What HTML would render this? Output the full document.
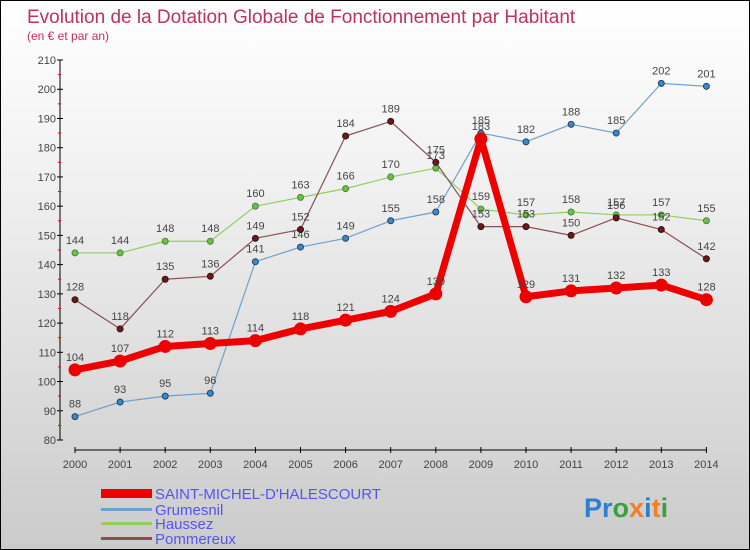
<!DOCTYPE html>
<html><head><meta charset="utf-8"><style>
body{margin:0;}
#c{width:748px;height:548px;border:1px solid #000;background:linear-gradient(#fff,#f2f2f2 30%,#cbcbcb);position:relative;font-family:"Liberation Sans",sans-serif;overflow:hidden}
</style></head><body>
<div id="c">
<svg id="s" width="748" height="548" xmlns="http://www.w3.org/2000/svg" font-family="Liberation Sans, sans-serif">
<text x="26" y="22" font-size="19" fill="#c03060">Evolution de la Dotation Globale de Fonctionnement par Habitant</text>
<text x="26" y="39" font-size="12" fill="#c03060">(en € et par an)</text>
<g id="g"></g>
<g>
<rect x="100" y="488" width="51" height="9" fill="#e00"/>
<text x="154" y="498" font-size="15" fill="#5555ee">SAINT-MICHEL-D'HALESCOURT</text>
<rect x="100" y="507" width="51" height="3" fill="#6fa0cc"/>
<text x="154" y="514" font-size="15" fill="#5555ee">Grumesnil</text>
<rect x="100" y="521" width="51" height="3" fill="#90d060"/>
<text x="154" y="528" font-size="15" fill="#5555ee">Haussez</text>
<rect x="100" y="536" width="51" height="3" fill="#8a5050"/>
<text x="154" y="543" font-size="15" fill="#5555ee">Pommereux</text>
</g>
<text x="583" y="516" font-size="27" font-weight="bold"><tspan fill="#2a7fd0">Pr</tspan><tspan fill="#3aa040">o</tspan><tspan fill="#f08020">x</tspan><tspan fill="#2a7fd0">i</tspan><tspan fill="#f08020">t</tspan><tspan fill="#3aa040">i</tspan></text>
</svg>
</div>
<script>
const years=[2000,2001,2002,2003,2004,2005,2006,2007,2008,2009,2010,2011,2012,2013,2014];
const smh=[104,107,112,113,114,118,121,124,130,183,129,131,132,133,128];
const grumesnil=[88,93,95,96,141,146,149,155,158,185,182,188,185,202,201];
const haussez=[144,144,148,148,160,163,166,170,173,159,157,158,157,157,155];
const pommereux=[128,118,135,136,149,152,184,189,175,153,153,150,156,152,142];
const yTicks=[80,90,100,110,120,130,140,150,160,170,180,190,200,210];
const NS="http://www.w3.org/2000/svg";
const g=document.getElementById('g');
const X=i=>74+i*45.1;
const Y=v=>439-(v-80)*2.923;
function mk(t,a,p){const e=document.createElementNS(NS,t);for(const k in a)e.setAttribute(k,a[k]);(p||g).appendChild(e);return e;}
// axes
let ax=mk('line',{x1:59,y1:Y(210),x2:59,y2:Y(80),stroke:'#000','stroke-width':1});


let xa=mk('line',{x1:X(0),y1:449,x2:X(14),y2:449,stroke:'#000','stroke-width':1});


yTicks.forEach((v,i)=>{
  mk('line',{x1:56,y1:Y(v),x2:62,y2:Y(v),stroke:'#000'});
  if(i<yTicks.length-1) mk('line',{x1:57,y1:Y(v+5),x2:60,y2:Y(v+5),stroke:'#e00'});
  const t=mk('text',{x:55,y:Y(v)+4,'font-size':11,fill:'#444','text-anchor':'end'});
  t.textContent=v;
  
  
});
years.forEach((y,i)=>{
  mk('line',{x1:X(i),y1:446,x2:X(i),y2:452,stroke:'#000'});
  const t=mk('text',{x:X(i),y:467,'font-size':11,fill:'#444','text-anchor':'middle'});
  t.textContent=y;
  
  
});
function series(data,col,dot,w,r,name,lc){
  const grp=mk('g',{});
  
  
  const pl=mk('polyline',{points:data.map((v,i)=>X(i)+','+Y(v)).join(' '),fill:'none',stroke:col,'stroke-width':w,'stroke-linejoin':'round'},grp);
  
  
  data.forEach((v,i)=>{
    const c=mk('circle',{cx:X(i),cy:Y(v),r:r,fill:dot,stroke:lc,'stroke-width':1},grp);
    
    
    const t=mk('text',{x:X(i),y:Y(v)-9,'font-size':11,fill:'#444','text-anchor':'middle'},grp);
    t.textContent=v;
    
    
  });
}
series(grumesnil,'#6fa0cc','#3a88c8',1.2,3,'grumesnil','#246');
series(haussez,'#90d060','#70c040',1.2,3,'haussez','#484');
series(pommereux,'#8a5050','#6a1a1a',1.2,3,'pommereux','#311');
series(smh,'#e00','#e00',7,6,'saint-michel','#e00');
</script>
</body></html>
